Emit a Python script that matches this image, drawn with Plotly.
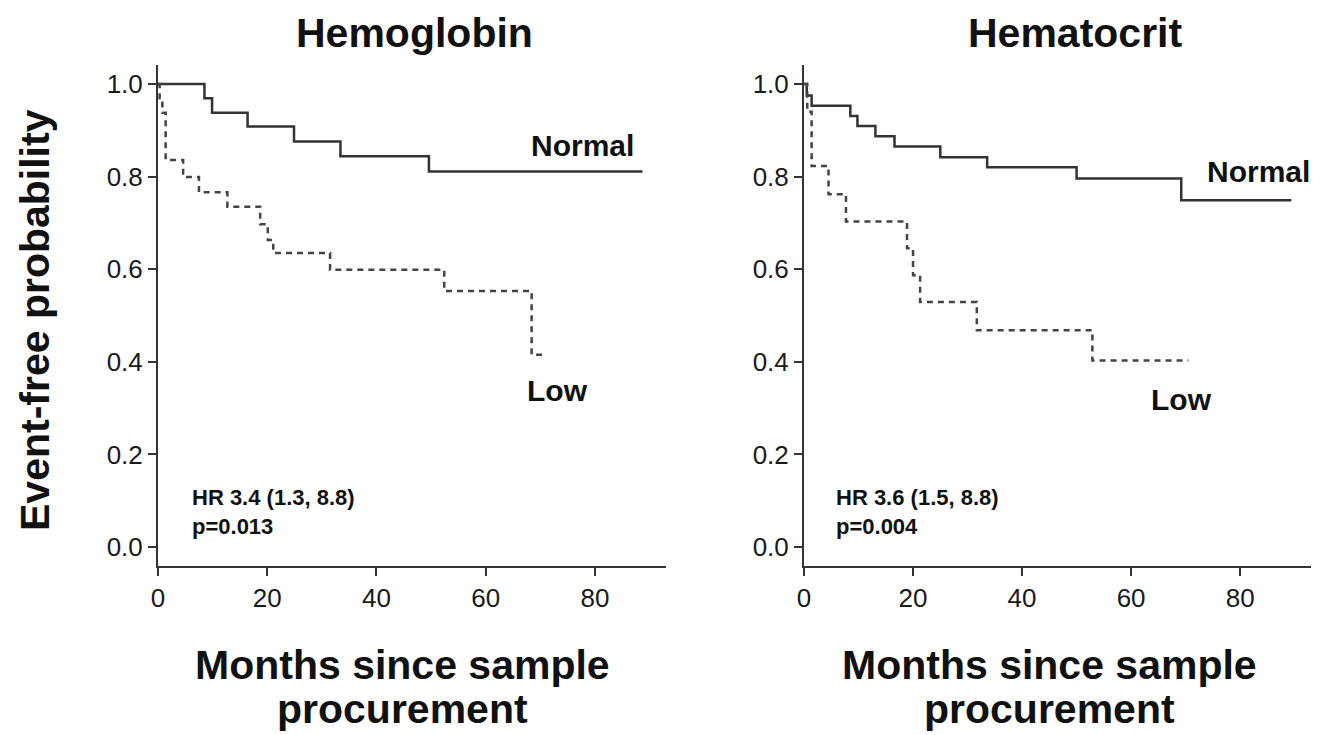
import plotly.graph_objects as go

# ---- data ----
hgb_normal_t = [0, 8.5, 9.9, 16.4, 24.9, 33.4, 49.6, 88.7]
hgb_normal_s = [1.0, 0.969, 0.938, 0.908, 0.876, 0.844, 0.811, 0.811]
hgb_low_t = [0, 0.3, 0.8, 1.4, 4.6, 7.5, 12.7, 18.7, 20.1, 21.1, 31.5, 52.4, 68.4, 71.2]
hgb_low_s = [1.0, 0.969, 0.938, 0.836, 0.799, 0.766, 0.735, 0.697, 0.663, 0.635, 0.599, 0.553, 0.415, 0.415]

hct_normal_t = [0, 0.5, 1.4, 8.5, 9.8, 13.1, 16.6, 25.0, 33.6, 50.0, 69.2, 89.4]
hct_normal_s = [1.0, 0.975, 0.953, 0.931, 0.909, 0.887, 0.865, 0.842, 0.820, 0.796, 0.749, 0.749]
hct_low_t = [0, 0.6, 1.4, 4.5, 7.7, 18.9, 20.0, 21.3, 31.7, 52.9, 70.5]
hct_low_s = [1.0, 0.94, 0.823, 0.762, 0.703, 0.645, 0.587, 0.529, 0.468, 0.403, 0.403]

panel_titles = ["Hemoglobin", "Hematocrit"]
hr_texts = ["HR 3.4 (1.3, 8.8)", "HR 3.6 (1.5, 8.8)"]
p_texts = ["p=0.013", "p=0.004"]
x_ticks = [0, 20, 40, 60, 80]
y_ticks = [0.0, 0.2, 0.4, 0.6, 0.8, 1.0]

W, H = 1324, 735
FONT = "Liberation Sans, Arial, sans-serif"
SOLID = "#333333"
DASHC = "#444444"

fig = go.Figure()

panels = [
    (hgb_normal_t, hgb_normal_s, hgb_low_t, hgb_low_s, "x", "y"),
    (hct_normal_t, hct_normal_s, hct_low_t, hct_low_s, "x2", "y2"),
]
for nt, ns, lt, ls, xa, ya in panels:
    fig.add_trace(go.Scatter(x=nt, y=ns, mode="lines", line_shape="hv",
                             line=dict(color=SOLID, width=2.5),
                             xaxis=xa, yaxis=ya, showlegend=False, hoverinfo="skip"))
    fig.add_trace(go.Scatter(x=lt, y=ls, mode="lines", line_shape="hv",
                             line=dict(color=DASHC, width=2.5, dash="6px,5px"),
                             xaxis=xa, yaxis=ya, showlegend=False, hoverinfo="skip"))

def px_x(p):
    return p / W

def px_y(p):
    return 1 - p / H

ydom = [px_y(566), px_y(65)]
xdoms = [[px_x(158), px_x(666)], [px_x(804), px_x(1311)]]

axis_common = dict(
    showgrid=False, zeroline=False, showline=True, linecolor="#333333", linewidth=2,
    ticks="outside", ticklen=8, tickwidth=2, tickcolor="#333333", automargin=False,
    tickfont=dict(family=FONT, size=26, color="#1a1a1a"),
)

fig.update_layout(
    width=W, height=H,
    margin=dict(l=0, r=0, t=0, b=0, autoexpand=False),
    paper_bgcolor="white", plot_bgcolor="white",
    showlegend=False,
)

for i, (xa, ya) in enumerate([("xaxis", "yaxis"), ("xaxis2", "yaxis2")]):
    anchor_x = "y" if i == 0 else "y2"
    anchor_y = "x" if i == 0 else "x2"
    fig.update_layout(**{
        xa: dict(domain=xdoms[i], range=[0, 93], anchor=anchor_x,
                 tickvals=x_ticks, ticktext=[str(v) for v in x_ticks], **axis_common),
        ya: dict(domain=ydom, range=[-0.041, 1.041], anchor=anchor_y,
                 tickvals=y_ticks, ticktext=[f"{v:.1f}" for v in y_ticks], **axis_common),
    })

ann = []
# panel titles
for cx, t in zip([414, 1075], panel_titles):
    ann.append(dict(text=t, x=px_x(cx), y=px_y(33), xref="paper", yref="paper",
                    xanchor="center", yanchor="middle", showarrow=False,
                    font=dict(family=FONT, size=41, color="#111111", weight="bold")))
# x-axis titles
for cx in [402, 1049]:
    ann.append(dict(text="Months since sample", x=px_x(cx), y=px_y(665), xref="paper", yref="paper",
                    xanchor="center", yanchor="middle", showarrow=False,
                    font=dict(family=FONT, size=41, color="#111111", weight="bold")))
    ann.append(dict(text="procurement", x=px_x(cx), y=px_y(709), xref="paper", yref="paper",
                    xanchor="center", yanchor="middle", showarrow=False,
                    font=dict(family=FONT, size=41, color="#111111", weight="bold")))
# y-axis title
ann.append(dict(text="Event-free probability", x=px_x(35), y=px_y(320), xref="paper", yref="paper",
                xanchor="center", yanchor="middle", textangle=-90, showarrow=False,
                font=dict(family=FONT, size=41, color="#111111", weight="bold")))

# curve labels and stats
labels = [
    ("x", "y", 77.8, 0.868, 73.2, 0.337, 5.9),
    ("x2", "y2", 83.3, 0.810, 69.2, 0.318, 5.5),
]
for i, (xr, yr, nx, ny, lx, ly, hx) in enumerate(labels):
    ann.append(dict(text="Normal", x=nx, y=ny, xref=xr, yref=yr, showarrow=False,
                    xanchor="center", yanchor="middle",
                    font=dict(family=FONT, size=30, color="#111111", weight="bold")))
    ann.append(dict(text="Low", x=lx, y=ly, xref=xr, yref=yr, showarrow=False,
                    xanchor="center", yanchor="middle",
                    font=dict(family=FONT, size=30, color="#111111", weight="bold")))
    ann.append(dict(text=hr_texts[i], x=hx, y=0.108, xref=xr, yref=yr, showarrow=False,
                    xanchor="left", yanchor="middle",
                    font=dict(family=FONT, size=22, color="#111111", weight="bold")))
    ann.append(dict(text=p_texts[i], x=hx, y=0.044, xref=xr, yref=yr, showarrow=False,
                    xanchor="left", yanchor="middle",
                    font=dict(family=FONT, size=22, color="#111111", weight="bold")))

fig.update_layout(annotations=ann)
fig.write_html(
    "out.html",
    config={"displayModeBar": False},
    post_script="document.body.style.margin='0';document.body.style.padding='0';"
                "document.body.style.overflow='hidden';",
)
